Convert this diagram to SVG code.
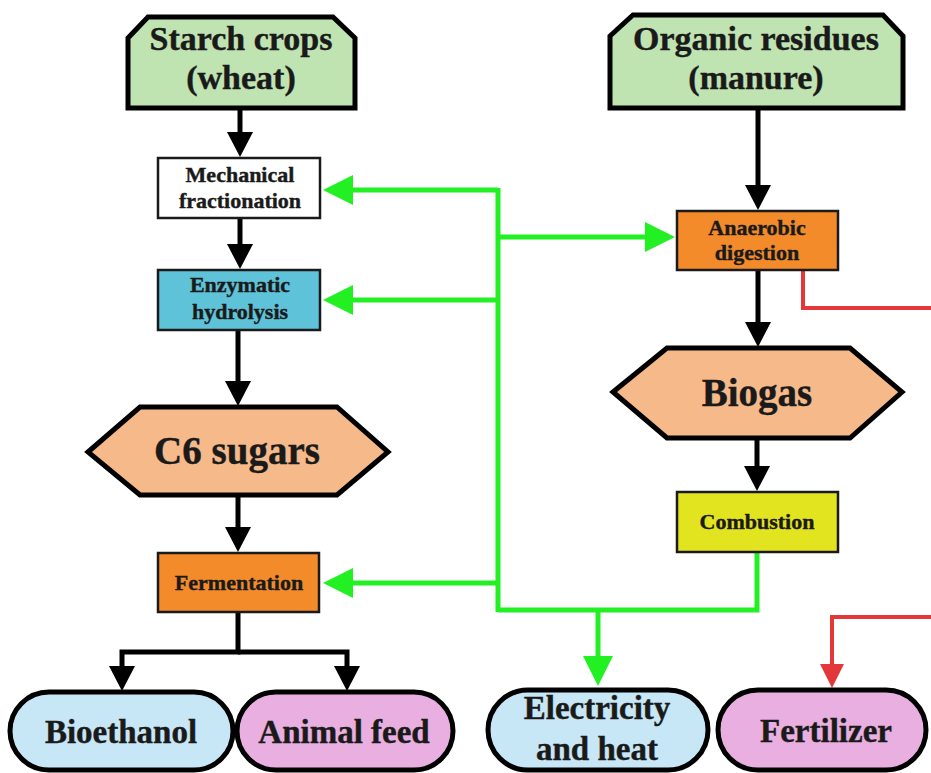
<svg xmlns="http://www.w3.org/2000/svg" width="931" height="773" viewBox="0 0 931 773">
  <style>
    text { font-family: "Liberation Serif", "Times New Roman", serif; font-weight: bold; fill: #1a1a1a; stroke: #1a1a1a; stroke-width: 0.4; text-anchor: middle; }
    .big { stroke: #000; stroke-width: 5; stroke-linejoin: miter; }
    .box { stroke: #1a1a1a; stroke-width: 2.5; }
    .src { fill: #bfe3b1; }
    .hex { fill: #f6b98a; }
    .orange { fill: #f38b2b; }
    .cyan { fill: #5ec2d8; }
    .white { fill: #ffffff; }
    .yellow { fill: #e3e420; }
    .blue { fill: #c7e6f6; }
    .pink { fill: #e8afe0; }
    .t34 { font-size: 34px; }
    .t38 { font-size: 39px; }
    .t22 { font-size: 22px; }
    .t33 { font-size: 33px; }
    .k { fill: none; stroke: #000; stroke-width: 5; }
    .g { fill: none; stroke: #22f022; stroke-width: 5; }
    .r { fill: none; stroke: #e3373a; stroke-width: 4; }
  </style>
  <defs>
    <marker id="ak" markerUnits="userSpaceOnUse" markerWidth="28" markerHeight="28" refX="14" refY="13" orient="auto" viewBox="0 0 28 28">
      <path d="M0,0 L25,13 L0,26 z" fill="#000"/>
    </marker>
    <marker id="ag" markerUnits="userSpaceOnUse" markerWidth="32" markerHeight="32" refX="18" refY="15" orient="auto" viewBox="0 0 32 32">
      <path d="M0,0 L30,15 L0,30 z" fill="#22f022"/>
    </marker>
    <marker id="ar" markerUnits="userSpaceOnUse" markerWidth="28" markerHeight="28" refX="14" refY="12" orient="auto" viewBox="0 0 28 28">
      <path d="M0,0 L24,12 L0,24 z" fill="#e3373a"/>
    </marker>
  </defs>
  <rect width="931" height="773" fill="#ffffff"/>

  <g id="connectors">
    <!-- starch crops chain -->
    <path class="k" d="M240,108 V146" marker-end="url(#ak)"/>
    <path class="k" d="M240,218 V258" marker-end="url(#ak)"/>
    <path class="k" d="M238,330 V395" marker-end="url(#ak)"/>
    <path class="k" d="M238,495 V541" marker-end="url(#ak)"/>
    <path class="k" d="M238,612 V652 H122 V680" marker-end="url(#ak)"/>
    <path class="k" d="M238,652 H347 V680" marker-end="url(#ak)"/>
    <!-- organic residues chain -->
    <path class="k" d="M758,108 V199" marker-end="url(#ak)"/>
    <path class="k" d="M758,270 V336" marker-end="url(#ak)"/>
    <path class="k" d="M757,438 V480" marker-end="url(#ak)"/>
    <!-- energy recirculation -->
    <path class="g" d="M498,188 V612"/>
    <path class="g" d="M498,190 H335" marker-end="url(#ag)"/>
    <path class="g" d="M498,300 H335" marker-end="url(#ag)"/>
    <path class="g" d="M498,583 H335" marker-end="url(#ag)"/>
    <path class="g" d="M498,237 H663" marker-end="url(#ag)"/>
    <path class="g" d="M757,552 V610 H498"/>
    <path class="g" d="M598,610 V674" marker-end="url(#ag)"/>
    <!-- digestate to fertilizer -->
    <path class="r" d="M803,270 V308 H931"/>
    <path class="r" d="M931,617 H832 V678" marker-end="url(#ar)"/>
  </g>

  <g id="starch-crops">
    <polygon class="big src" points="128,38 148,17 333,17 355,38 355,108 128,108"/>
    <text class="t34" x="241" y="50">Starch crops</text>
    <text class="t34" x="241" y="89">(wheat)</text>
  </g>
  <g id="organic-residues">
    <polygon class="big src" points="610,36 633,15 883,15 903,36 903,108 610,108"/>
    <text class="t34" x="756" y="50">Organic residues</text>
    <text class="t34" x="756" y="89">(manure)</text>
  </g>
  <g id="mechanical-fractionation">
    <rect class="box white" x="158" y="158" width="162" height="60"/>
    <text class="t22" x="240" y="182">Mechanical</text>
    <text class="t22" x="240" y="208">fractionation</text>
  </g>
  <g id="enzymatic-hydrolysis">
    <rect class="box cyan" x="158" y="270" width="162" height="60"/>
    <text class="t22" x="240" y="292">Enzymatic</text>
    <text class="t22" x="240" y="319">hydrolysis</text>
  </g>
  <g id="c6-sugars">
    <polygon class="big hex" points="88,452 140,407 337,407 388,452 337,495 140,495"/>
    <text class="t38" x="237" y="464">C6 sugars</text>
  </g>
  <g id="fermentation">
    <rect class="box orange" x="158" y="553" width="161" height="59"/>
    <text class="t22" x="239" y="590">Fermentation</text>
  </g>
  <g id="anaerobic-digestion">
    <rect class="box orange" x="677" y="211" width="161" height="59"/>
    <text class="t22" x="757" y="235">Anaerobic</text>
    <text class="t22" x="757" y="260">digestion</text>
  </g>
  <g id="biogas">
    <polygon class="big hex" points="613,392 667,348 850,348 902,392 850,438 667,438"/>
    <text class="t38" x="757" y="406">Biogas</text>
  </g>
  <g id="combustion">
    <rect class="box yellow" x="677" y="492" width="161" height="60"/>
    <text class="t22" x="757" y="529">Combustion</text>
  </g>
  <g id="bioethanol">
    <rect class="big blue" x="10" y="692" width="223" height="78" rx="39" ry="39"/>
    <text class="t33" x="121" y="743">Bioethanol</text>
  </g>
  <g id="animal-feed">
    <rect class="big pink" x="237" y="692" width="216" height="78" rx="39" ry="39"/>
    <text class="t33" x="344" y="743">Animal feed</text>
  </g>
  <g id="electricity-heat">
    <rect class="big blue" x="488" y="690" width="220" height="80" rx="40" ry="40"/>
    <text class="t33" x="597" y="719">Electricity</text>
    <text class="t33" x="597" y="760">and heat</text>
  </g>
  <g id="fertilizer">
    <rect class="big pink" x="718" y="690" width="208" height="80" rx="40" ry="40"/>
    <text class="t33" x="826" y="742">Fertilizer</text>
  </g>
</svg>
